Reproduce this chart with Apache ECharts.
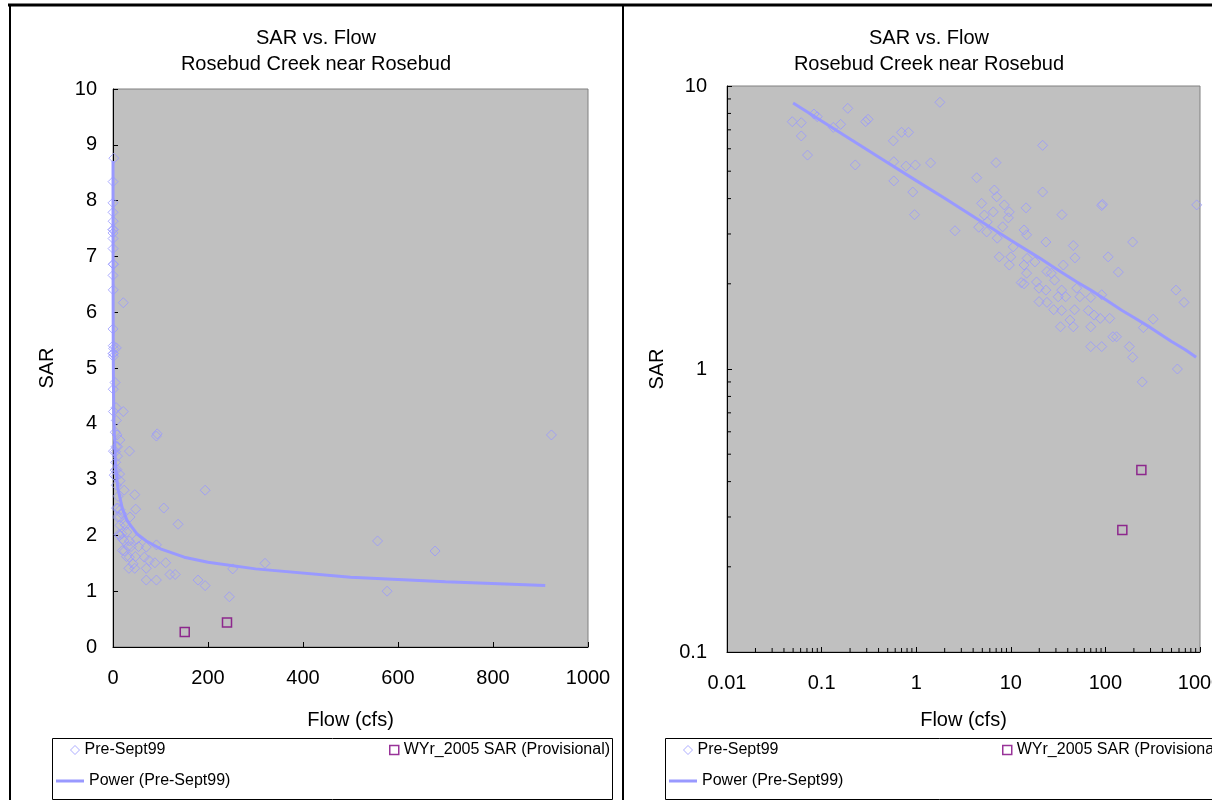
<!DOCTYPE html>
<html>
<head>
<meta charset="utf-8">
<script src="https://cdn.jsdelivr.net/npm/echarts@6/dist/echarts.min.js"></script>
<style>
html, body { margin: 0; padding: 0; background: #fff; overflow: hidden; }
#chart { width: 1212px; height: 800px; }
</style>
</head>
<body>
<div id="chart"></div>
<script>
// Pre-Sept99 samples: flow (cfs) and SAR
const preFlow = [
    0.049, 0.061, 0.061, 0.071, 0.083, 0.090, 0.133, 0.159, 0.189, 0.227,
    0.292, 0.31, 0.573, 0.58, 0.58, 0.70, 0.83, 0.78, 0.98, 0.92, 0.96,
    1.42, 1.78, 2.57, 4.36, 4.58, 4.92, 5.25, 5.56, 5.64, 6.53, 6.70, 6.98,
    7.10, 7.19, 7.55, 8.20, 8.53, 9.42, 9.64, 9.64, 10.0, 10.6,
    12.9, 13.8, 13.8, 13.8, 14.5, 14.7, 14.7, 14.9, 18.0, 18.7, 19.9, 19.9,
    21.7, 21.7, 23.5, 23.5, 24.1, 24.1, 26.8, 28.4, 29.0, 31.7, 33.5, 34.5,
    34.5, 34.7, 35.9, 38.0, 42.2, 45.8, 45.8, 47.2, 47.7, 49.8, 53.7, 66.0,
    70.0, 70.0, 70.0, 75.9, 88.2, 91.4, 93.0, 91.4, 91.4,
    107, 111, 120, 131, 137, 179, 194, 194, 245, 252, 320, 557, 577, 678, 923
];
const preSar = [
    7.48, 7.42, 6.66, 5.70, 7.96, 7.79, 7.14, 7.32, 8.34, 5.26,
    7.48, 7.63, 6.40, 5.40, 4.62, 6.86, 6.86, 5.21, 5.26, 4.22, 3.51,
    5.35, 8.76, 3.08, 4.74, 3.17, 3.85, 3.50, 3.05, 3.31, 3.59, 4.29, 5.36,
    4.06, 2.90, 2.49, 3.18, 3.80, 3.42, 3.59, 2.33, 2.49, 2.70,
    2.02, 2.00, 3.10, 2.33, 3.71, 2.98, 2.18, 2.46, 2.39, 2.03, 1.93, 1.73,
    6.17, 4.22, 2.81, 1.90, 2.21, 1.72, 2.18, 1.62, 2.06, 1.80, 1.41, 1.90,
    1.61, 3.51, 2.33, 1.80, 1.49, 2.73, 1.41, 1.62, 2.47, 1.93, 1.80, 1.61,
    1.79, 1.41, 1.20, 1.55, 1.51, 3.78, 3.82, 1.83, 1.20,
    2.49, 1.51, 1.30, 1.30, 2.20, 1.20, 2.81, 1.10, 0.90, 1.40, 1.50, 1.90, 1.00, 1.72, 3.80
];
// WYr_2005 SAR (Provisional)
const wyFlow = [151, 240];
const wySar = [0.27, 0.44];
// Power (Pre-Sept99) trend line
const trendFlow = [0.05, 0.1, 0.2, 0.5, 1, 2, 5, 10, 20, 30, 50, 70, 100, 150, 200, 300, 500, 700, 910];
const trendSar = [8.71, 7.52, 6.50, 5.36, 4.63, 4.01, 3.30, 2.85, 2.47, 2.26, 2.03, 1.90, 1.76, 1.61, 1.52, 1.40, 1.25, 1.17, 1.10];
// minor ticks on the log axes
const minorSteps = [2, 3, 4, 5, 6, 7, 8, 9];
const xDecades = [0.01, 0.1, 1, 10, 100];
const yDecades = [0.1, 1];

const FONT = "'Liberation Sans', Arial, sans-serif";
const BLUE = '#9999FF';
const PURPLE = '#800080';

const chart = echarts.init(document.getElementById('chart'));

function pairs(xs, ys) {
    return xs.map((x, i) => [x, ys[i]]);
}

const xMinor = [];
xDecades.forEach(d => minorSteps.forEach(s => xMinor.push(+(d * s).toPrecision(3))));
const yMinor = [];
yDecades.forEach(d => minorSteps.forEach(s => yMinor.push(+(d * s).toPrecision(3))));

// 坐标轴公共样式
function axisBase(extra) {
    return Object.assign({
        axisLine: { show: true, onZero: false, lineStyle: { color: '#000', width: 1 } },
        axisTick: { show: true, inside: true, length: 5, lineStyle: { color: '#000' } },
        splitLine: { show: false },
        nameLocation: 'middle',
        nameTextStyle: { color: '#000', fontSize: 20, fontFamily: FONT }
    }, extra);
}

function plainLabel(v) {
    return String(+Number(v).toPrecision(3));
}

function labelStyle(margin) {
    return { color: '#000', fontSize: 20, fontFamily: FONT, margin: margin, formatter: plainLabel };
}

function panelSeries(idx) {
    return [
        {
            name: 'Pre-Sept99',
            type: 'scatter',
            xAxisIndex: idx, yAxisIndex: idx,
            symbol: 'diamond',
            symbolSize: 10,
            itemStyle: { color: 'rgba(0,0,0,0)', borderColor: BLUE, borderWidth: 1 },
            data: pairs(preFlow, preSar),
            z: 3
        },
        {
            name: 'WYr_2005 SAR (Provisional)',
            type: 'scatter',
            xAxisIndex: idx, yAxisIndex: idx,
            symbol: 'rect',
            symbolSize: 9,
            itemStyle: { color: 'rgba(0,0,0,0)', borderColor: PURPLE, borderWidth: 1.5 },
            data: pairs(wyFlow, wySar),
            z: 4
        },
        {
            name: 'Power (Pre-Sept99)',
            type: 'line',
            xAxisIndex: idx, yAxisIndex: idx,
            symbol: 'none',
            showSymbol: false,
            lineStyle: { color: BLUE, width: 3 },
            itemStyle: { color: BLUE },
            data: pairs(trendFlow, trendSar),
            z: 2
        }
    ];
}

function minorTickSeries(values, vertical) {
    return {
        type: 'custom',
        xAxisIndex: 1, yAxisIndex: 1,
        silent: true,
        clip: false,
        z: 10,
        data: values.map(v => vertical ? [0.01, v] : [v, 0.1]),
        renderItem: function (params, api) {
            const p = api.coord([api.value(0), api.value(1)]);
            const shape = vertical
                ? { x1: p[0], y1: p[1], x2: p[0] + 4, y2: p[1] }
                : { x1: p[0], y1: p[1], x2: p[0], y2: p[1] - 4 };
            return { type: 'line', shape: shape, style: { stroke: '#000', lineWidth: 1 } };
        }
    };
}

// 图例：每个面板三项
function legends(dx) {
    const text = { color: '#000', fontSize: 16, fontFamily: FONT, lineHeight: 18 };
    return [
        {
            left: 70 + dx, top: 741, padding: 0, itemWidth: 9, itemHeight: 9,
            textStyle: text, selectedMode: false,
            data: [{ name: 'Pre-Sept99', icon: 'diamond',
                itemStyle: { color: 'rgba(0,0,0,0)', borderColor: BLUE, borderWidth: 1 } }]
        },
        {
            left: 389 + dx, top: 741, padding: 0, itemWidth: 9, itemHeight: 9,
            textStyle: text, selectedMode: false,
            data: [{ name: 'WYr_2005 SAR (Provisional)', icon: 'rect',
                itemStyle: { color: 'rgba(0,0,0,0)', borderColor: PURPLE, borderWidth: 1.5 } }]
        },
        {
            left: 56 + dx, top: 772, padding: 0, itemWidth: 28, itemHeight: 3,
            textStyle: text, selectedMode: false,
            data: [{ name: 'Power (Pre-Sept99)', icon: 'rect',
                itemStyle: { color: BLUE, borderWidth: 0 } }]
        }
    ];
}

function titleText(x, y, txt) {
    return {
        type: 'text', x: x, y: y, silent: true,
        style: { text: txt, fill: '#000', fontSize: 20, fontFamily: FONT, align: 'center', verticalAlign: 'middle' }
    };
}

const gridStyle = { show: true, backgroundColor: '#C0C0C0', borderColor: '#808080', borderWidth: 1, containLabel: false, outerBoundsMode: 'none' };

const option = {
    animation: false,
    backgroundColor: '#fff',
    grid: [
        Object.assign({ left: 113, top: 89, width: 475, height: 558 }, gridStyle),
        Object.assign({ left: 727, top: 86, width: 473, height: 566 }, gridStyle)
    ],
    xAxis: [
        axisBase({ gridIndex: 0, type: 'value', min: 0, max: 1000, interval: 200,
            name: 'Flow (cfs)', nameGap: 63, axisLabel: labelStyle(21) }),
        axisBase({ gridIndex: 1, type: 'log', logBase: 10, min: 0.01, max: 1000,
            name: 'Flow (cfs)', nameGap: 58, axisLabel: labelStyle(21) })
    ],
    yAxis: [
        axisBase({ gridIndex: 0, type: 'value', min: 0, max: 10, interval: 1,
            name: 'SAR', nameGap: 56, axisLabel: labelStyle(16) }),
        axisBase({ gridIndex: 1, type: 'log', logBase: 10, min: 0.1, max: 10,
            name: 'SAR', nameGap: 60, axisLabel: labelStyle(20) })
    ],
    legend: legends(0).concat(legends(613)),
    series: panelSeries(0).concat(panelSeries(1), [minorTickSeries(xMinor, false), minorTickSeries(yMinor, true)]),
    graphic: [
        // 页面表格边框
        { type: 'line', silent: true, shape: { x1: 8, y1: 5, x2: 1212, y2: 5 }, style: { stroke: '#000', lineWidth: 3 } },
        { type: 'line', silent: true, shape: { x1: 10, y1: 4, x2: 10, y2: 800 }, style: { stroke: '#000', lineWidth: 2 } },
        { type: 'line', silent: true, shape: { x1: 623, y1: 4, x2: 623, y2: 800 }, style: { stroke: '#000', lineWidth: 2 } },
        // 图例外框
        { type: 'rect', silent: true, z: -1, shape: { x: 52.5, y: 738.5, width: 560, height: 61 }, style: { fill: '#fff', stroke: '#000', lineWidth: 1 } },
        { type: 'rect', silent: true, z: -1, shape: { x: 665.5, y: 738.5, width: 560, height: 61 }, style: { fill: '#fff', stroke: '#000', lineWidth: 1 } },
        // 标题
        titleText(316, 38, 'SAR vs. Flow'),
        titleText(316, 64, 'Rosebud Creek near Rosebud'),
        titleText(929, 38, 'SAR vs. Flow'),
        titleText(929, 64, 'Rosebud Creek near Rosebud')
    ]
};

chart.setOption(option);
</script>
</body>
</html>
